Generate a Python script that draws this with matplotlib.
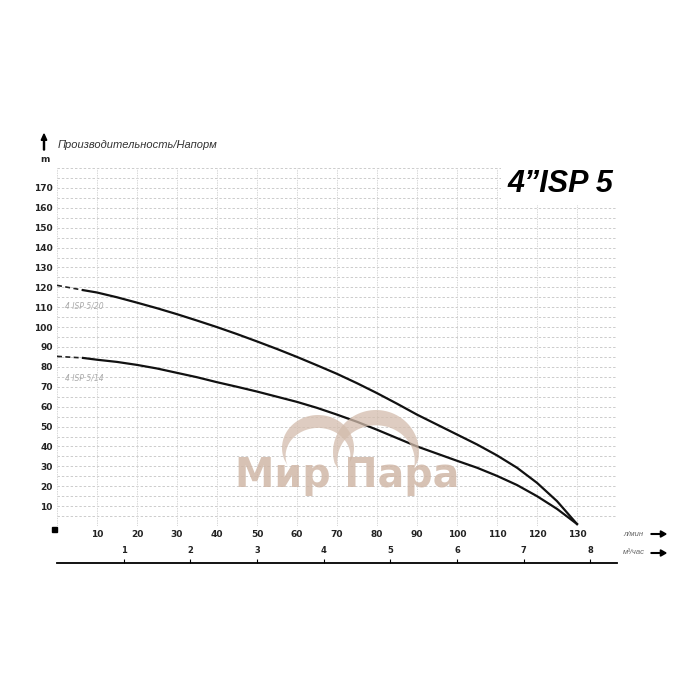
import numpy as np
import matplotlib.pyplot as plt
from matplotlib.patches import FancyArrow, Rectangle, Polygon

# расход, л/мин
flow = [0, 6.5, 10, 15, 20, 25, 30, 35, 40, 45, 50, 55, 60, 65, 70,
        75, 80, 85, 90, 95, 100, 105, 110, 115, 120, 125, 130]
# напор, м
head_5_20 = [121, 118.6, 117.4, 115, 112.3, 109.5, 106.5, 103.3, 100, 96.5, 92.8, 89, 85, 80.8, 76.5,
             71.8, 66.8, 61.5, 56, 51, 46, 41, 35.5, 29.3, 21.7, 12.5, 1]
head_5_14 = [85.3, 84.5, 83.6, 82.5, 81, 79.2, 77, 74.8, 72.3, 70, 67.6, 65, 62.4, 59.4, 56,
             52.4, 48.4, 44.2, 40, 36.4, 32.8, 29.3, 25.2, 20.6, 15, 8.6, 1]

x_ticks = list(range(10, 140, 10))
y_ticks = list(range(10, 180, 10))
m3_ticks = [1, 2, 3, 4, 5, 6, 7, 8]

fig = plt.figure(figsize=(7, 7), dpi=100)
ax = fig.add_axes([57 / 700, 1 - 526 / 700, 560 / 700, 358 / 700])
ax.set_xlim(0, 140)
ax.set_ylim(0, 180)

# сетка
for yy in np.arange(0, 181, 5):
    ax.axhline(yy, color='#cccccc', lw=0.7, ls=(0, (2.5, 2)), zorder=0)
for xx in np.arange(0, 141, 10):
    ax.axvline(xx, color='#d8d8d8', lw=0.7, ls=(0, (1.5, 1)), zorder=0)

for s in ax.spines.values():
    s.set_visible(False)

ax.set_xticks(x_ticks)
ax.set_yticks(y_ticks)
ax.set_xticklabels([str(v) for v in x_ticks], fontsize=6.5, fontweight='bold', color='#222222')
ax.set_yticklabels([str(v) for v in y_ticks], fontsize=6.5, fontweight='bold', color='#222222')
ax.tick_params(length=0, pad=3)


def crescent(cx, cy, w, h, shift, t0, t1):
    # полумесяц (в пикселях картинки, y вниз): внешняя дуга и смещённая вниз внутренняя
    t = np.radians(np.linspace(t0, t1, 60))
    outer = np.c_[cx + w / 2 * np.cos(t), cy - h / 2 * np.sin(t)]
    inner = np.c_[cx + w / 2 * 0.9 * np.cos(t[::-1]), cy + shift - h / 2 * 0.85 * np.sin(t[::-1])]
    pts = np.vstack([outer, inner])
    pts[:, 0] /= 100
    pts[:, 1] = (700 - pts[:, 1]) / 100
    return Polygon(pts, closed=True, fc='#d3bcac', ec='none', alpha=0.75,
                   transform=fig.dpi_scale_trans, zorder=1)


# водяной знак
fig.text(347 / 700, 1 - 476 / 700, 'Мир Пара', fontsize=28.5, fontweight='bold',
         color='#cdb3a2', alpha=0.8, ha='center', va='center', zorder=1)
fig.patches.append(crescent(318, 448, 72, 66, 8, -15, 200))
fig.patches.append(crescent(376, 452, 86, 84, 9, -12, 195))

# кривые: пунктир в начале, дальше сплошная
for head, name, ly in [(head_5_20, '4 ISP 5/20', 110.8), (head_5_14, '4 ISP 5/14', 74.4)]:
    ax.plot(flow[:2], head[:2], color='#222222', lw=1.2, ls=(0, (3, 2)), zorder=3)
    ax.plot(flow[1:], head[1:], color='#111111', lw=1.6, zorder=3)
    ax.text(2, ly, name, fontsize=5.5, style='italic', color='#aaaaaa', va='center', ha='left')

# заголовок в белой плашке
ax.text(139, 172, '4\u201dISP 5', fontsize=22, fontweight='bold', style='italic',
        family='Liberation Sans', ha='right', va='center', color='black',
        bbox=dict(boxstyle='square,pad=0.2', fc='white', ec='none'), zorder=5)

# ось Y: стрелка и подписи
fig.patches.append(FancyArrow(
    44 / 700, 1 - 150 / 700, 0, 16 / 700, width=0.0015, head_width=0.008,
    head_length=0.009, color='black', transform=fig.transFigure, length_includes_head=True))
fig.text(58 / 700, 1 - 145 / 700, 'Производительность/Напорм', fontsize=8,
         style='italic', family='Liberation Sans', color='#333333', va='center', ha='left')
fig.text(45 / 700, 1 - 159 / 700, 'm', fontsize=6.5, fontweight='bold', color='#222222',
         ha='center', va='center')
fig.patches.append(Rectangle(
    (52 / 700, 1 - 532 / 700), 5 / 700, 5 / 700, color='black', transform=fig.transFigure))

# вторая шкала, м³/час
ax2 = fig.add_axes([57 / 700, 1 - 563 / 700, 560 / 700, 0.0001])
ax2.set_xlim(0, 140 / (1000 / 60))
ax2.set_ylim(0, 1)
ax2.set_yticks([])
for k in ['left', 'right', 'bottom']:
    ax2.spines[k].set_visible(False)
ax2.spines['top'].set_linewidth(1.3)
ax2.set_xticks(m3_ticks)
ax2.set_xticklabels([str(v) for v in m3_ticks], fontsize=6, fontweight='bold', color='#222222')
ax2.tick_params(top=True, bottom=False, labeltop=True, labelbottom=False,
                direction='out', length=3, width=0.8, pad=3)

# единицы
for yy, unit in [(534, 'л/мин'), (553, 'м³/час')]:
    fig.text(623 / 700, 1 - yy / 700, unit, fontsize=5.5, style='italic', color='#666666',
             family='Liberation Sans', va='center', ha='left')
    fig.patches.append(FancyArrow(
        651 / 700, 1 - yy / 700, 15 / 700, 0, width=0.001, head_width=0.009,
        head_length=0.008, color='black', transform=fig.transFigure, length_includes_head=True))

fig.savefig('out.png', dpi=100, facecolor='white')
